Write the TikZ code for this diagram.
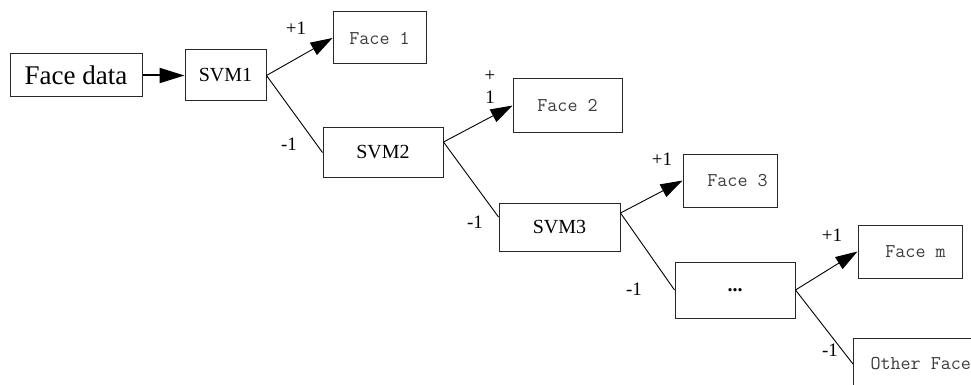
\documentclass[tikz,border=0pt]{standalone}
\usepackage{fontspec}
\setmainfont{Liberation Serif}
\usetikzlibrary{arrows.meta}
\definecolor{boxline}{RGB}{40,40,40}
\definecolor{facetext}{RGB}{60,60,60}
\tikzstyle{box}=[draw=boxline, line width=1pt, inner sep=0pt]
\tikzstyle{box-data}=[box, minimum width=132pt, minimum height=43pt, font=\fontsize{27}{30}\selectfont]
\tikzstyle{box-svm}=[box, minimum width=120pt, minimum height=49pt, font=\fontsize{20}{22}\selectfont]
\tikzstyle{box-face}=[box, minimum width=94pt, minimum height=53pt, text=facetext, font=\ttfamily\fontsize{19.5}{21}\selectfont]
\tikzstyle{lbl}=[inner sep=0pt, font=\fontsize{19}{22}\selectfont]

\begin{document}
\begin{tikzpicture}[x=1pt, y=-1pt, >={Triangle[length=22pt,width=14pt]}]
	\useasboundingbox (0,0) rectangle (971,385);
	\clip (0,0) rectangle (971,385);
	% nodes
	 \node [box-data] (data) at (76,75.5) {Face data};
	 \node [box-svm, minimum width=81pt, minimum height=51pt] (svm1) at (225.5,75.5) {SVM1};
	 \node [box-svm] (svm2) at (383,152.5) {SVM2};
	 \node [box-svm, minimum width=121pt, minimum height=48pt] (svm3) at (559.5,227) {SVM3};
	 \node [box-svm, minimum height=56pt] (dots) at (735,290) {\textbf{...}};

	 \node [box-face, minimum width=93pt, minimum height=52pt] (face1) at (379.5,38) {Face 1};
	 \node [box-face, minimum width=109pt] (face2) at (567.5,105.5) {Face 2};
	 \node [box-face] (face3) at (730,180.5) {\hspace{15pt}Face 3};
	 \node [box-face, minimum width=104pt] (facem) at (910,251.5) {\hspace{11pt}Face m};
	 \node [box-face, anchor=west, inner xsep=17pt, minimum height=52pt] (other) at (853,364) {Other Face};

	 \node [lbl] (p1) at (296,28) {+1};
	 \node [lbl] (m1) at (289,144) {-1};
	 \node [lbl, align=center] (p2) at (490,87) {+\\1};
	 \node [lbl] (m2) at (475,222) {-1};
	 \node [lbl] (p3) at (662,159) {+1};
	 \node [lbl] (m3) at (634,289) {-1};
	 \node [lbl] (p4) at (832,235) {+1};
	 \node [lbl] (m4) at (830,350) {-1};

	 % arrows
	 \draw [->, line width=2pt, >={Triangle[length=25pt,width=15pt]}] (data) -- (svm1);
	 \draw [->, line width=0.9pt] (svm1.east) -- (face1.west);
	 \draw [line width=0.9pt] (svm1.east) -- (svm2.west);
	 \draw [->, line width=0.9pt] ([yshift=10.5pt]svm2.east) -- (face2.west);
	 \draw [line width=0.9pt] ([yshift=10.5pt]svm2.east) -- ([yshift=10pt]svm3.west);
	 \draw [->, line width=0.9pt] ([yshift=14pt]svm3.east) -- (face3.west);
	 \draw [line width=0.9pt] ([yshift=14pt]svm3.east) -- (dots.west);
	 \draw [->, line width=0.9pt] (dots.east) -- (facem.west);
	 \draw [line width=0.9pt] (dots.east) -- (other.west);
\end{tikzpicture}
\end{document}
